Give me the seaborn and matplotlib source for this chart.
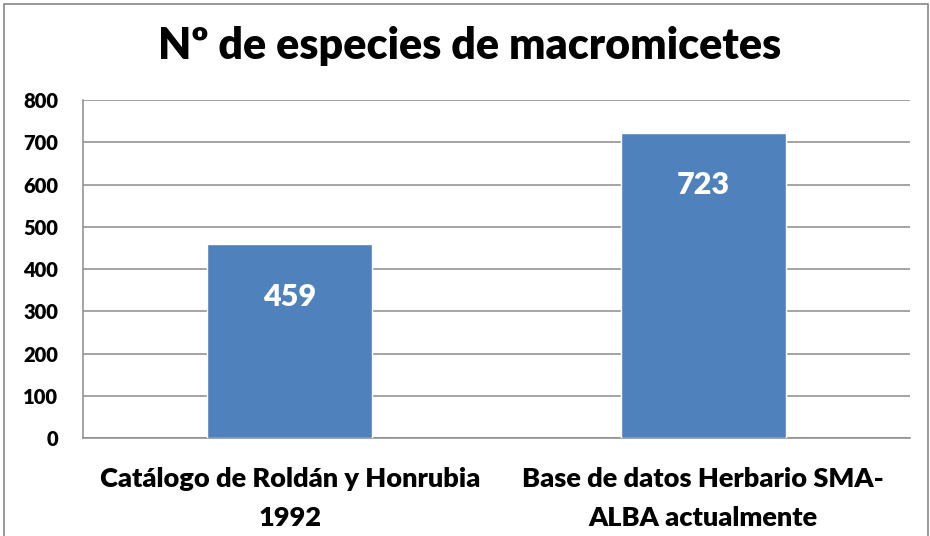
import matplotlib
matplotlib.use("Agg")
import matplotlib.pyplot as plt
import pandas as pd
import seaborn as sns
from matplotlib.patches import Rectangle
from matplotlib.ticker import FixedLocator

categorias = ["Catálogo de Roldán y Honrubia\n1992",
              "Base de datos Herbario SMA-\nALBA actualmente"]
especies = [459, 723]
titulo = "Nº de especies de macromicetes"

sns.set_style("white")
plt.rcParams['font.family'] = ['Lato', 'DejaVu Sans']
plt.rcParams['font.weight'] = 'heavy'
plt.rcParams['text.color'] = 'black'
plt.rcParams['xtick.labelcolor'] = 'black'
plt.rcParams['ytick.labelcolor'] = 'black'

df = pd.DataFrame({"fuente": categorias, "n": especies})

fig = plt.figure(figsize=(9.3, 5.36), dpi=100)
ax = fig.add_axes([0.0892, 0.1828, 0.8893, 0.6306])

sns.barplot(data=df, x="fuente", y="n", color="#4F81BD", saturation=1,
            width=0.4, ax=ax, zorder=3)

ax.set_ylim(0, 800)
ax.set_xlim(-0.5, 1.5)
ax.set_yticks(range(0, 801, 100))
ax.yaxis.grid(True, color="#8C8C8C", linewidth=1.1, zorder=0)
ax.set_axisbelow(True)
ax.set_xlabel("")
ax.set_ylabel("")
ax.set_title("")

for s in ["top", "right"]:
    ax.spines[s].set_visible(False)
for s in ["left", "bottom"]:
    ax.spines[s].set_color("#8C8C8C")
    ax.spines[s].set_linewidth(1.1)

ax.tick_params(axis="y", length=5, color="#8C8C8C", width=1.1, labelsize=14.5, pad=13,
               labelcolor="black")
ax.tick_params(axis="x", which="major", length=0, labelsize=19.5, pad=21,
               labelcolor="black")
ax.xaxis.set_minor_locator(FixedLocator([-0.5, 0.5, 1.5]))
ax.tick_params(axis="x", which="minor", length=9, color="#8C8C8C", width=1.1)
for lab in ax.get_xticklabels():
    lab.set_fontweight("heavy")
    lab.set_linespacing(1.75)
for lab in ax.get_yticklabels():
    lab.set_fontweight("heavy")

for i, v in enumerate(especies):
    ax.annotate(str(v), xy=(i, v), xytext=(0, -38), textcoords="offset points",
                ha="center", va="center", color="white", fontsize=22,
                fontweight="heavy")

fig.text(0.505, 0.915, titulo, ha="center", va="center", fontsize=31,
         fontweight="heavy", color="black")

fig.patches.append(Rectangle((0.004, -0.02), 0.994, 1.012, transform=fig.transFigure,
                             fill=False, edgecolor="#868686", linewidth=1.2))

fig.savefig("out.png", dpi=100)
